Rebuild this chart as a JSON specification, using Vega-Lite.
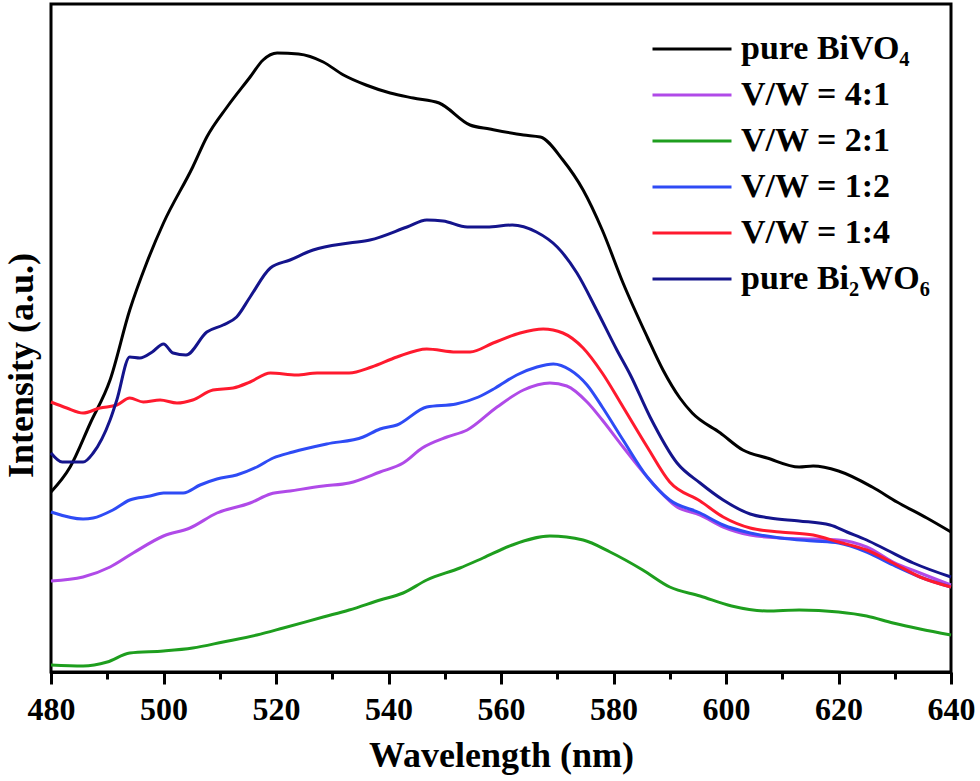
{
  "$schema": "https://vega.github.io/schema/vega-lite/v6.json",
  "width": 900,
  "height": 668,
  "autosize": "none",
  "padding": {"left": 51, "top": 4, "right": 29, "bottom": 109},
  "background": "white",
  "config": {
    "view": {"stroke": "black", "strokeWidth": 3},
    "font": "'Liberation Serif', 'Times New Roman', serif",
    "axis": {"labelFont": "'Liberation Serif', 'Times New Roman', serif", "titleFont": "'Liberation Serif', 'Times New Roman', serif"},
    "legend": {"labelFont": "'Liberation Serif', 'Times New Roman', serif"}
  },
  "datasets": {
    "spectra": [
      {"s":"pure BiVO₄","x":480,"y":180},{"s":"pure BiVO₄","x":483.4,"y":205},{"s":"pure BiVO₄","x":487,"y":249},{"s":"pure BiVO₄","x":490.5,"y":292},{"s":"pure BiVO₄","x":494,"y":362},{"s":"pure BiVO₄","x":497,"y":409},{"s":"pure BiVO₄","x":500,"y":449},{"s":"pure BiVO₄","x":505.2,"y":505},{"s":"pure BiVO₄","x":507.7,"y":535},{"s":"pure BiVO₄","x":511.3,"y":565},{"s":"pure BiVO₄","x":515.4,"y":595},{"s":"pure BiVO₄","x":517.7,"y":612},{"s":"pure BiVO₄","x":520.2,"y":619},{"s":"pure BiVO₄","x":524,"y":618},{"s":"pure BiVO₄","x":528.4,"y":610},{"s":"pure BiVO₄","x":532,"y":597},{"s":"pure BiVO₄","x":536,"y":587},{"s":"pure BiVO₄","x":540.3,"y":579},{"s":"pure BiVO₄","x":544.4,"y":574},{"s":"pure BiVO₄","x":549,"y":569},{"s":"pure BiVO₄","x":554.5,"y":547},{"s":"pure BiVO₄","x":558,"y":543},{"s":"pure BiVO₄","x":564,"y":537},{"s":"pure BiVO₄","x":567,"y":535},{"s":"pure BiVO₄","x":571,"y":512},{"s":"pure BiVO₄","x":574.6,"y":482},{"s":"pure BiVO₄","x":578,"y":442},{"s":"pure BiVO₄","x":581.7,"y":389},{"s":"pure BiVO₄","x":586,"y":335},{"s":"pure BiVO₄","x":588.8,"y":302},{"s":"pure BiVO₄","x":591.8,"y":274},{"s":"pure BiVO₄","x":594,"y":259},{"s":"pure BiVO₄","x":599,"y":239},{"s":"pure BiVO₄","x":603,"y":222},{"s":"pure BiVO₄","x":607.3,"y":214},{"s":"pure BiVO₄","x":613,"y":205},{"s":"pure BiVO₄","x":615.5,"y":206},{"s":"pure BiVO₄","x":620,"y":201},{"s":"pure BiVO₄","x":626,"y":185},{"s":"pure BiVO₄","x":630.4,"y":170},{"s":"pure BiVO₄","x":635.7,"y":154},{"s":"pure BiVO₄","x":640,"y":140},

      {"s":"V/W = 4:1","x":480,"y":91},{"s":"V/W = 4:1","x":485.7,"y":95},{"s":"V/W = 4:1","x":490.5,"y":105},{"s":"V/W = 4:1","x":494.6,"y":119},{"s":"V/W = 4:1","x":500,"y":136},{"s":"V/W = 4:1","x":504.7,"y":144},{"s":"V/W = 4:1","x":509.5,"y":159},{"s":"V/W = 4:1","x":515.4,"y":169},{"s":"V/W = 4:1","x":519,"y":178},{"s":"V/W = 4:1","x":522.5,"y":181},{"s":"V/W = 4:1","x":528.4,"y":186},{"s":"V/W = 4:1","x":533,"y":189},{"s":"V/W = 4:1","x":538.5,"y":200},{"s":"V/W = 4:1","x":542.6,"y":209},{"s":"V/W = 4:1","x":546,"y":224},{"s":"V/W = 4:1","x":550.4,"y":235},{"s":"V/W = 4:1","x":554,"y":242},{"s":"V/W = 4:1","x":559.3,"y":265},{"s":"V/W = 4:1","x":564,"y":282},{"s":"V/W = 4:1","x":568.7,"y":289},{"s":"V/W = 4:1","x":571.7,"y":286},{"s":"V/W = 4:1","x":575.3,"y":270},{"s":"V/W = 4:1","x":578,"y":252},{"s":"V/W = 4:1","x":581.7,"y":225},{"s":"V/W = 4:1","x":586,"y":195},{"s":"V/W = 4:1","x":591.3,"y":165},{"s":"V/W = 4:1","x":595.4,"y":157},{"s":"V/W = 4:1","x":599.5,"y":145},{"s":"V/W = 4:1","x":604.3,"y":137},{"s":"V/W = 4:1","x":609.6,"y":134},{"s":"V/W = 4:1","x":615.5,"y":133},{"s":"V/W = 4:1","x":620,"y":132},{"s":"V/W = 4:1","x":625,"y":125},{"s":"V/W = 4:1","x":629.7,"y":110},{"s":"V/W = 4:1","x":634.5,"y":99},{"s":"V/W = 4:1","x":640,"y":87},

      {"s":"V/W = 2:1","x":480,"y":7},{"s":"V/W = 2:1","x":485.7,"y":6},{"s":"V/W = 2:1","x":490,"y":10},{"s":"V/W = 2:1","x":494,"y":19},{"s":"V/W = 2:1","x":500,"y":21},{"s":"V/W = 2:1","x":505.2,"y":24},{"s":"V/W = 2:1","x":510.6,"y":30},{"s":"V/W = 2:1","x":516.6,"y":37},{"s":"V/W = 2:1","x":521.3,"y":44},{"s":"V/W = 2:1","x":528.4,"y":55},{"s":"V/W = 2:1","x":533,"y":62},{"s":"V/W = 2:1","x":538.5,"y":72},{"s":"V/W = 2:1","x":542.6,"y":79},{"s":"V/W = 2:1","x":546.8,"y":92},{"s":"V/W = 2:1","x":552.7,"y":104},{"s":"V/W = 2:1","x":556.8,"y":114},{"s":"V/W = 2:1","x":562,"y":127},{"s":"V/W = 2:1","x":568.7,"y":136},{"s":"V/W = 2:1","x":574.6,"y":132},{"s":"V/W = 2:1","x":579.4,"y":120},{"s":"V/W = 2:1","x":585.2,"y":102},{"s":"V/W = 2:1","x":590,"y":85},{"s":"V/W = 2:1","x":595.4,"y":76},{"s":"V/W = 2:1","x":601,"y":66},{"s":"V/W = 2:1","x":607.3,"y":61},{"s":"V/W = 2:1","x":613,"y":62},{"s":"V/W = 2:1","x":620,"y":60},{"s":"V/W = 2:1","x":625,"y":56},{"s":"V/W = 2:1","x":629.7,"y":49},{"s":"V/W = 2:1","x":634.5,"y":43},{"s":"V/W = 2:1","x":640,"y":37},

      {"s":"V/W = 1:2","x":480,"y":160},{"s":"V/W = 1:2","x":485.7,"y":153},{"s":"V/W = 1:2","x":487.5,"y":154},{"s":"V/W = 1:2","x":491,"y":162},{"s":"V/W = 1:2","x":494,"y":172},{"s":"V/W = 1:2","x":497.6,"y":176},{"s":"V/W = 1:2","x":500,"y":179},{"s":"V/W = 1:2","x":503.5,"y":179},{"s":"V/W = 1:2","x":506.5,"y":187},{"s":"V/W = 1:2","x":509.5,"y":193},{"s":"V/W = 1:2","x":513,"y":197},{"s":"V/W = 1:2","x":516.6,"y":205},{"s":"V/W = 1:2","x":519.5,"y":214},{"s":"V/W = 1:2","x":523,"y":220},{"s":"V/W = 1:2","x":529,"y":228},{"s":"V/W = 1:2","x":535.5,"y":235},{"s":"V/W = 1:2","x":538.5,"y":243},{"s":"V/W = 1:2","x":541.5,"y":247},{"s":"V/W = 1:2","x":546.8,"y":265},{"s":"V/W = 1:2","x":552,"y":268},{"s":"V/W = 1:2","x":556,"y":275},{"s":"V/W = 1:2","x":559,"y":284},{"s":"V/W = 1:2","x":562.8,"y":297},{"s":"V/W = 1:2","x":566.4,"y":305},{"s":"V/W = 1:2","x":569.3,"y":308},{"s":"V/W = 1:2","x":572.3,"y":302},{"s":"V/W = 1:2","x":575.3,"y":287},{"s":"V/W = 1:2","x":578,"y":265},{"s":"V/W = 1:2","x":581.7,"y":232},{"s":"V/W = 1:2","x":586,"y":195},{"s":"V/W = 1:2","x":590,"y":172},{"s":"V/W = 1:2","x":595.4,"y":159},{"s":"V/W = 1:2","x":599.5,"y":147},{"s":"V/W = 1:2","x":604.3,"y":139},{"s":"V/W = 1:2","x":609.6,"y":134},{"s":"V/W = 1:2","x":615.5,"y":131},{"s":"V/W = 1:2","x":620,"y":129},{"s":"V/W = 1:2","x":625,"y":120},{"s":"V/W = 1:2","x":629.7,"y":107},{"s":"V/W = 1:2","x":634.5,"y":95},{"s":"V/W = 1:2","x":640,"y":85},

      {"s":"V/W = 1:4","x":480,"y":270},{"s":"V/W = 1:4","x":482.8,"y":264},{"s":"V/W = 1:4","x":485.7,"y":259},{"s":"V/W = 1:4","x":488.7,"y":264},{"s":"V/W = 1:4","x":491.7,"y":267},{"s":"V/W = 1:4","x":494,"y":274},{"s":"V/W = 1:4","x":496.4,"y":270},{"s":"V/W = 1:4","x":499.4,"y":272},{"s":"V/W = 1:4","x":502.4,"y":269},{"s":"V/W = 1:4","x":505.2,"y":272},{"s":"V/W = 1:4","x":508.8,"y":282},{"s":"V/W = 1:4","x":512.4,"y":284},{"s":"V/W = 1:4","x":515.4,"y":290},{"s":"V/W = 1:4","x":519,"y":299},{"s":"V/W = 1:4","x":523.7,"y":297},{"s":"V/W = 1:4","x":527.3,"y":299},{"s":"V/W = 1:4","x":533,"y":299},{"s":"V/W = 1:4","x":537,"y":305},{"s":"V/W = 1:4","x":541.5,"y":315},{"s":"V/W = 1:4","x":546.8,"y":323},{"s":"V/W = 1:4","x":552,"y":320},{"s":"V/W = 1:4","x":554.5,"y":320},{"s":"V/W = 1:4","x":558.6,"y":329},{"s":"V/W = 1:4","x":563.4,"y":339},{"s":"V/W = 1:4","x":567.5,"y":343},{"s":"V/W = 1:4","x":571,"y":339},{"s":"V/W = 1:4","x":574.6,"y":324},{"s":"V/W = 1:4","x":578,"y":299},{"s":"V/W = 1:4","x":581.7,"y":265},{"s":"V/W = 1:4","x":586,"y":225},{"s":"V/W = 1:4","x":590,"y":190},{"s":"V/W = 1:4","x":595.4,"y":171},{"s":"V/W = 1:4","x":599.5,"y":155},{"s":"V/W = 1:4","x":604.3,"y":144},{"s":"V/W = 1:4","x":609.6,"y":140},{"s":"V/W = 1:4","x":615.5,"y":137},{"s":"V/W = 1:4","x":620,"y":130},{"s":"V/W = 1:4","x":625,"y":122},{"s":"V/W = 1:4","x":629.7,"y":109},{"s":"V/W = 1:4","x":634.5,"y":95},{"s":"V/W = 1:4","x":640,"y":85},

      {"s":"pure Bi₂WO₆","x":480,"y":219},{"s":"pure Bi₂WO₆","x":482,"y":210},{"s":"pure Bi₂WO₆","x":485.7,"y":210},{"s":"pure Bi₂WO₆","x":487.5,"y":219},{"s":"pure Bi₂WO₆","x":490.5,"y":252},{"s":"pure Bi₂WO₆","x":491.7,"y":272},{"s":"pure Bi₂WO₆","x":494,"y":315},{"s":"pure Bi₂WO₆","x":495.8,"y":314},{"s":"pure Bi₂WO₆","x":498,"y":320},{"s":"pure Bi₂WO₆","x":500,"y":328},{"s":"pure Bi₂WO₆","x":501.7,"y":319},{"s":"pure Bi₂WO₆","x":504,"y":317},{"s":"pure Bi₂WO₆","x":507.7,"y":340},{"s":"pure Bi₂WO₆","x":510.6,"y":347},{"s":"pure Bi₂WO₆","x":513,"y":355},{"s":"pure Bi₂WO₆","x":515.4,"y":375},{"s":"pure Bi₂WO₆","x":519,"y":404},{"s":"pure Bi₂WO₆","x":522.5,"y":412},{"s":"pure Bi₂WO₆","x":526.6,"y":422},{"s":"pure Bi₂WO₆","x":533,"y":429},{"s":"pure Bi₂WO₆","x":536.7,"y":432},{"s":"pure Bi₂WO₆","x":543.3,"y":445},{"s":"pure Bi₂WO₆","x":546.8,"y":452},{"s":"pure Bi₂WO₆","x":549.7,"y":451},{"s":"pure Bi₂WO₆","x":554,"y":445},{"s":"pure Bi₂WO₆","x":557.5,"y":445},{"s":"pure Bi₂WO₆","x":562,"y":447},{"s":"pure Bi₂WO₆","x":566.3,"y":440},{"s":"pure Bi₂WO₆","x":570,"y":425},{"s":"pure Bi₂WO₆","x":573.5,"y":399},{"s":"pure Bi₂WO₆","x":577,"y":362},{"s":"pure Bi₂WO₆","x":580.6,"y":322},{"s":"pure Bi₂WO₆","x":583,"y":297},{"s":"pure Bi₂WO₆","x":586.5,"y":255},{"s":"pure Bi₂WO₆","x":591.3,"y":209},{"s":"pure Bi₂WO₆","x":595.4,"y":189},{"s":"pure Bi₂WO₆","x":599.5,"y":172},{"s":"pure Bi₂WO₆","x":604.3,"y":158},{"s":"pure Bi₂WO₆","x":607.8,"y":154},{"s":"pure Bi₂WO₆","x":613,"y":151},{"s":"pure Bi₂WO₆","x":618.5,"y":147},{"s":"pure Bi₂WO₆","x":621.5,"y":140},{"s":"pure Bi₂WO₆","x":625,"y":132},{"s":"pure Bi₂WO₆","x":628.6,"y":122},{"s":"pure Bi₂WO₆","x":633.3,"y":109},{"s":"pure Bi₂WO₆","x":640,"y":95}
    ]
  },
  "data": {"name": "spectra"},
  "mark": {"type": "line", "strokeWidth": 3, "interpolate": "monotone"},
  "encoding": {
    "x": {
      "field": "x", "type": "quantitative",
      "scale": {"domain": [480, 640], "nice": false, "zero": false},
      "axis": {
        "title": "Wavelength (nm)",
        "values": [480,490,500,510,520,530,540,550,560,570,580,590,600,610,620,630,640],
        "labelExpr": "datum.value % 20 === 0 ? datum.label : ''",
        "grid": false,
        "domainColor": "black", "domainWidth": 3,
        "tickColor": "black", "tickWidth": 3,
        "tickSize": {"condition": {"test": "datum.value % 20 === 0", "value": 12}, "value": 7},
        "labelFontSize": 32, "labelFontWeight": "bold", "labelColor": "black",
        "labelPadding": 10, "labelFlush": false, "labelOverlap": false,
        "titleFontSize": 36, "titleFontWeight": "bold", "titleColor": "black",
        "titlePadding": 13
      }
    },
    "y": {
      "field": "y", "type": "quantitative",
      "scale": {"domain": [0, 668], "nice": false},
      "axis": {
        "title": "Intensity (a.u.)",
        "grid": false, "ticks": false, "labels": false, "domain": false,
        "titleFontSize": 36, "titleFontWeight": "bold", "titleColor": "black",
        "titleX": -30, "titleY": 361, "titleBaseline": "middle", "titleAlign": "center", "titleAngle": 270
      }
    },
    "color": {
      "field": "s", "type": "nominal",
      "sort": ["pure BiVO₄","V/W = 4:1","V/W = 2:1","V/W = 1:2","V/W = 1:4","pure Bi₂WO₆"],
      "scale": {
        "domain": ["pure BiVO₄","V/W = 4:1","V/W = 2:1","V/W = 1:2","V/W = 1:4","pure Bi₂WO₆"],
        "range": ["#000000","#b04ae8","#1e9e1e","#2e4bf5","#ff1a2e","#14148c"]
      },
      "legend": {
        "title": null,
        "orient": "none",
        "legendX": 600,
        "legendY": 22,
        "symbolType": "stroke",
        "symbolSize": 6241,
        "symbolStrokeWidth": 3,
        "clipHeight": 46,
        "labelFontSize": 34, "labelFontWeight": "bold", "labelColor": "black",
        "labelLimit": 400,
        "labelOffset": 8,
        "rowPadding": 0
      }
    }
  }
}
